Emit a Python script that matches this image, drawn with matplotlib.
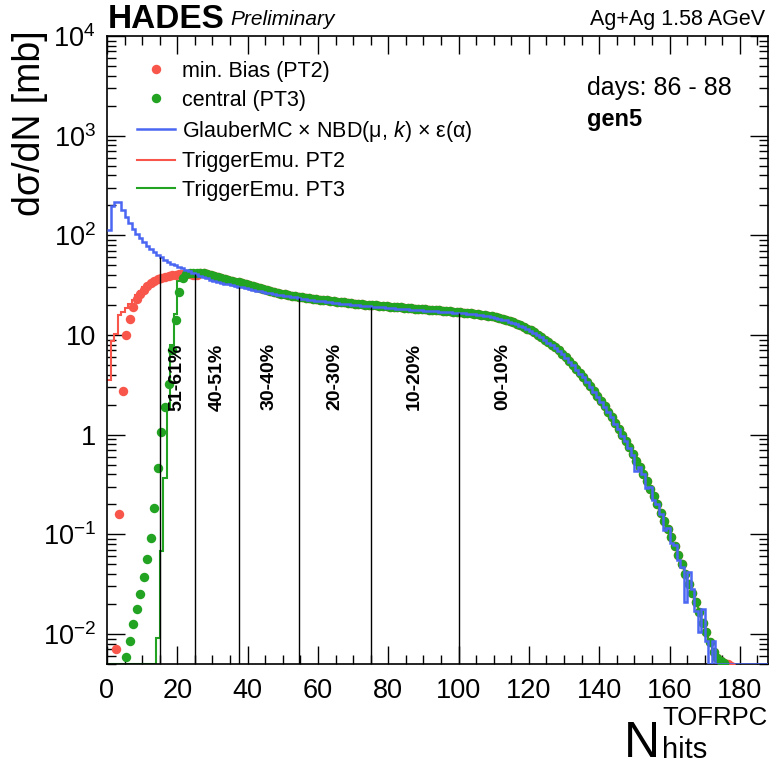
import numpy as np
import matplotlib
matplotlib.use('Agg')
import matplotlib.pyplot as plt
from matplotlib.ticker import LogLocator, MultipleLocator, FuncFormatter, NullFormatter
from matplotlib.lines import Line2D

plt.rcParams['font.family'] = ['Liberation Sans', 'DejaVu Sans']
plt.rcParams['mathtext.fontset'] = 'custom'
plt.rcParams['mathtext.rm'] = 'Liberation Sans'
plt.rcParams['mathtext.it'] = 'Liberation Sans:italic'
plt.rcParams['mathtext.bf'] = 'Liberation Sans:bold'

# ---- data, bins of width 1 in N_hits ----
# GlauberMC x NBD x eff, bins 0..187
glauber = [112, 195, 214, 214, 180, 152, 132, 116, 104, 94,
           86, 79, 73, 68, 64, 60, 57, 54.5, 52, 50,
           48, 46.5, 45, 43.5, 42, 40.5, 39.2, 38, 37, 36,
           35, 34.2, 33.5, 32.8, 32.2, 31.6, 31, 30.5, 30, 29.4,
           28.9, 28.4, 27.9, 27.5, 27, 26.6, 26.2, 25.8, 25.4, 25,
           24.7, 24.4, 24.1, 23.8, 23.5, 23.2, 22.9, 22.6, 22.4, 22.1,
           21.9, 21.7, 21.5, 21.2, 21.0, 20.8, 20.6, 20.5, 20.3, 20.1,
           20.0, 19.8, 19.7, 19.5, 19.4, 19.3, 19.1, 19.0, 18.9, 18.8,
           18.6, 18.5, 18.4, 18.3, 18.2, 18.1, 18.0, 17.9, 17.8, 17.7,
           17.6, 17.5, 17.4, 17.3, 17.2, 17.1, 17.0, 16.9, 16.8, 16.7,
           16.6, 16.5, 16.4, 16.3, 16.1, 16.0, 15.8, 15.6, 15.4, 15.2,
           14.9, 14.6, 14.3, 14.0, 13.6, 13.2, 12.8, 12.4, 11.9, 11.4,
           11.0, 10.5, 10.0, 9.5, 8.9, 8.4, 7.9, 7.4, 6.9, 6.4,
           5.9, 5.4, 4.95, 4.5, 4.1, 3.75, 3.35, 3.0, 2.7, 2.4,
           2.15, 1.9, 1.68, 1.5, 1.28, 1.15, 0.98, 0.86, 0.74, 0.62,
           0.43, 0.47, 0.40, 0.29, 0.30, 0.22, 0.20, 0.16, 0.11, 0.115,
           0.082, 0.078, 0.055, 0.047, 0.021, 0.042, 0.028, 0.017, 0.0105, 0.018,
           0.0085, 0, 0.0085, 0, 0, 0, 0, 0, 0, 0,
           0, 0, 0, 0, 0, 0, 0, 0]

# data above N=26, where PT2 and PT3 agree (bins 26..175)
common = [41.8, 41.5, 41.0, 40.2,
          39.3, 38.5, 37.6, 36.8, 36.0, 35.2, 34.4, 33.7, 33.0, 32.2,
          31.5, 30.8, 30.1, 29.4, 28.8, 28.2, 27.6, 27.0, 26.5, 26.0,
          25.6, 25.2, 24.9, 24.6, 24.3, 24.0, 23.7, 23.4, 23.1, 22.9,
          22.6, 22.4, 22.2, 22.0, 21.8, 21.6, 21.4, 21.2, 21.0, 20.8,
          20.6, 20.5, 20.3, 20.2, 20.0, 19.9, 19.8, 19.6, 19.5, 19.4,
          19.3, 19.2, 19.0, 18.9, 18.8, 18.7, 18.6, 18.4, 18.3, 18.2,
          18.1, 18.0, 17.9, 17.8, 17.7, 17.5, 17.4, 17.3, 17.2, 17.05,
          16.9, 16.8, 16.6, 16.5, 16.3, 16.2, 16.0, 15.8, 15.6, 15.4,
          15.1, 14.8, 14.5, 14.2, 13.8, 13.4, 13.0, 12.6, 12.1, 11.6,
          11.1, 10.6, 10.1, 9.6, 9.0, 8.5, 8.0, 7.5, 7.0, 6.5,
          6.0, 5.5, 5.0, 4.6, 4.2, 3.8, 3.4, 3.05, 2.75, 2.45,
          2.2, 1.95, 1.7, 1.5, 1.32, 1.15, 1.0, 0.87, 0.75, 0.64,
          0.55, 0.47, 0.40, 0.34, 0.285, 0.24, 0.20, 0.165, 0.137, 0.113,
          0.093, 0.076, 0.062, 0.050, 0.040, 0.032, 0.026, 0.021, 0.0165, 0.013,
          0.0104, 0.0083, 0.0066, 0.0058, 0.0054, 0.0051]

# min. bias (PT2) points, bins 2..25, plus the last two bins
mb_low = [0.0071, 0.16, 2.75, 10.0, 14.5, 19.0, 23.0, 26.0, 28.5, 31.0,
          33.0, 34.8, 36.2, 37.3, 38.3, 39.1, 39.8, 40.3, 40.6, 40.8,
          40.8, 40.6, 40.4, 40.2]
mb_end = [0.0050, 0.0048]

# central (PT3) points, bins 5..25
cen_low = [0.0059, 0.0086, 0.0126, 0.018, 0.025, 0.037, 0.056, 0.092, 0.185, 0.46,
           1.06, 1.9, 3.2, 7.0, 14.3, 27.0, 37.0, 40.5, 41.5, 42.0, 42.0]

# trigger emulation, bins 0..25
trig2_low = [3.5, 8.8, 10.3, 15.8, 17.0, 18.5, 20.3, 22.5, 25.0, 27.5,
             30.0, 32.0, 33.8, 35.2, 36.5, 37.5, 38.5, 39.3, 40.0, 40.5,
             40.8, 41.0, 41.0, 40.8, 40.6, 40.4]
trig3_low = [0, 0, 0, 0, 0, 0, 0, 0, 0, 0,
             0, 0, 0, 0, 0.0091, 0.068, 0.37, 1.86, 7.9, 16.4,
             35.0, 40.0, 41.0, 41.5, 42.0, 42.0]

# centrality cuts and classes
cuts = [15, 25, 37.5, 54.5, 75, 100, 125]
classes = ['51-61%', '40-51%', '30-40%', '20-30%', '10-20%', '00-10%']

c_red = '#f8564b'
c_green = '#22a322'
c_blue = '#4a66f2'

ymin, ymax = 5e-3, 1e4

fig = plt.figure(figsize=(7.7, 7.67), dpi=100)
ax = fig.add_axes([107 / 770, 103 / 767, 661 / 770, 628 / 767])
ax.set_yscale('log')

trig2 = np.array(trig2_low + common)
trig3 = np.array(trig3_low + common)
trig3 = np.where(trig3 > 0, trig3, ymin)
ax.stairs(trig2, np.arange(len(trig2) + 1), baseline=None, color=c_red, lw=1.5, zorder=2)
ax.stairs(trig3, np.arange(len(trig3) + 1), baseline=None, color=c_green, lw=1.5, zorder=2)

red_y = np.array(mb_low + common + mb_end)
red_x = np.arange(2, 2 + len(red_y)) + 0.5
ax.plot(red_x, red_y, 'o', color=c_red, ms=6.8, mew=0, zorder=3)

green_y = np.array(cen_low + common)
green_x = np.arange(5, 5 + len(green_y)) + 0.5
ax.plot(green_x, green_y, 'o', color=c_green, ms=6.8, mew=0, zorder=4)

blue = np.array(glauber, dtype=float)
blue = np.where(blue > 0, blue, ymin)
ax.stairs(blue, np.arange(len(blue) + 1), baseline=None, color=c_blue, lw=1.8, zorder=5)

# centrality lines up to the Glauber curve
tops = [glauber[int(c)] for c in cuts[:-1]]
ax.vlines(cuts[:-1], ymin, tops, color='black', lw=1.0, zorder=6)
mids = [(cuts[i] + cuts[i + 1]) / 2 for i in range(len(classes))]
for xm, lab in zip(mids, classes):
    ax.text(xm, 3.8, lab, rotation=90, ha='center', va='center',
            fontsize=14, fontweight='bold', zorder=7)

ax.set_xlim(0, 188)
ax.set_ylim(ymin, ymax)
ax.xaxis.set_major_locator(MultipleLocator(20))
ax.xaxis.set_minor_locator(MultipleLocator(5))
ax.yaxis.set_major_locator(LogLocator(base=10, numticks=20))
ax.yaxis.set_minor_locator(LogLocator(base=10, subs=np.arange(2, 10), numticks=20))
ax.yaxis.set_minor_formatter(NullFormatter())


def ylab(v, pos):
    e = int(round(np.log10(v)))
    if e == 0:
        return '1'
    if e == 1:
        return '10'
    return r'$10^{%d}$' % e


ax.yaxis.set_major_formatter(FuncFormatter(ylab))
ax.tick_params(which='both', direction='in', top=True, right=True, width=1.0,
               labelsize=19.5)
ax.tick_params(axis='x', pad=10)
ax.tick_params(axis='y', pad=8)
ax.tick_params(which='major', length=13)
ax.tick_params(which='minor', length=6.5)
for s in ax.spines.values():
    s.set_linewidth(1.2)

handles = [Line2D([], [], ls='none', marker='o', ms=6.8, mew=0, color=c_red),
           Line2D([], [], ls='none', marker='o', ms=6.8, mew=0, color=c_green),
           Line2D([], [], color=c_blue, lw=1.8),
           Line2D([], [], color=c_red, lw=1.5),
           Line2D([], [], color=c_green, lw=1.5)]
labels = ['min. Bias (PT2)', 'central (PT3)',
          'GlauberMC × NBD(μ, $k$) × ε(α)',
          'TriggerEmu. PT2', 'TriggerEmu. PT3']
ax.legend(handles, labels, loc='upper left', bbox_to_anchor=(137 / 770, 1 - 61 / 767),
          bbox_transform=fig.transFigure, frameon=False, fontsize=15.5,
          handlelength=1.75, handletextpad=0.35, labelspacing=0.36,
          borderpad=0, borderaxespad=0)

fig.text(108 / 770, 1 - 28 / 767, 'HADES', fontsize=24, fontweight='bold', va='baseline')
fig.text(230 / 770, 1 - 25 / 767, 'Preliminary', fontsize=15, style='italic', va='baseline')
fig.text(765 / 770, 1 - 25 / 767, 'Ag+Ag 1.58 AGeV', fontsize=15.5, ha='right', va='baseline')
fig.text(587 / 770, 1 - 95 / 767, 'days: 86 - 88', fontsize=18, va='baseline')
fig.text(587 / 770, 1 - 126 / 767, 'gen5', fontsize=17, fontweight='bold', va='baseline')

fig.text(30 / 770, 1 - 30 / 767, 'dσ/dN [mb]', fontsize=27, rotation=90, ha='center', va='top')
fig.text(660 / 770, 1 - 757 / 767, 'N', fontsize=36, ha='right', va='baseline')
fig.text(768 / 770, 1 - 725 / 767, 'TOFRPC', fontsize=18.5, ha='right', va='baseline')
fig.text(662 / 770, 1 - 758 / 767, 'hits', fontsize=21, ha='left', va='baseline')

fig.savefig('out.png', dpi=100)
